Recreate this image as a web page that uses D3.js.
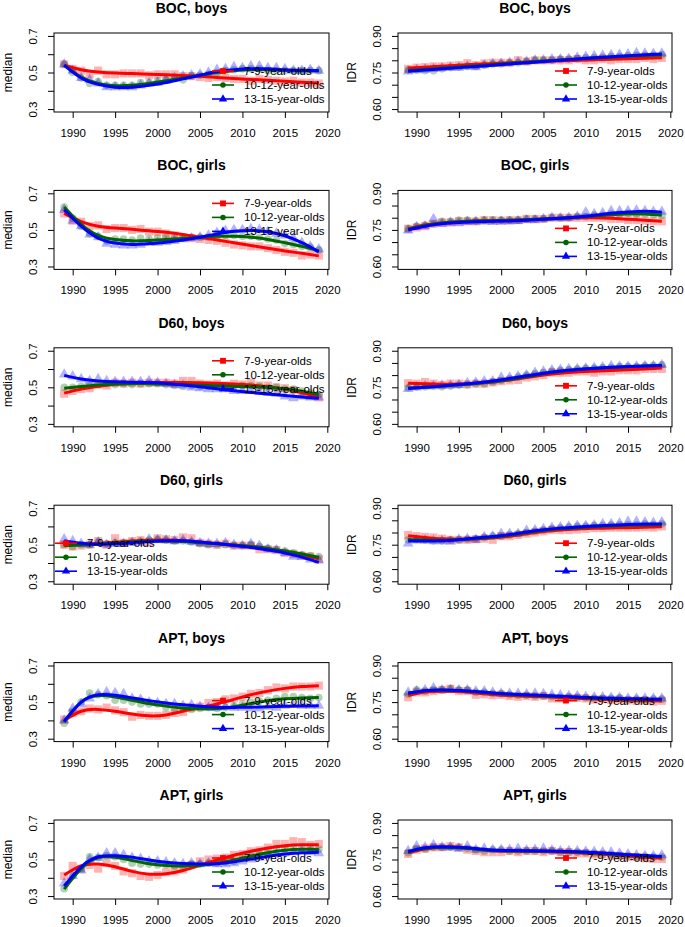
<!DOCTYPE html>
<html><head><meta charset="utf-8">
<script src="https://cdn.jsdelivr.net/npm/d3@7"></script>
<style>body{margin:0;background:#fff}svg{display:block;font-family:"Liberation Sans",Arial,Helvetica,sans-serif}</style>
</head><body><svg id="chart" width="685" height="927"></svg>
<script>
// ---------------- data ----------------
const years = [1989,1990,1991,1992,1993,1994,1995,1996,1997,1998,1999,2000,2001,2002,2003,2004,2005,2006,2007,2008,2009,2010,2011,2012,2013,2014,2015,2016,2017,2018,2019];
const fitYears = [1989,1991,1993,1995,1997,1999,2001,2003,2005,2007,2009,2011,2013,2015,2017,2019];
const groups = ["7-9-year-olds","10-12-year-olds","13-15-year-olds"];
const panelTitles = ["BOC, boys","BOC, girls","D60, boys","D60, girls","APT, boys","APT, girls"];
const measures = ["median","IDR"];
const yearTicks = [1990,1995,2000,2005,2010,2015,2020];
const medianTicks = [0.3,0.4,0.5,0.6,0.7];
const medianTickLabels = ["0.3","","0.5","","0.7"];
const idrTicks = [0.60,0.65,0.70,0.75,0.80,0.85,0.90];
const idrTickLabels = ["0.60","","","0.75","","","0.90"];

// median: observed points (7-9, 10-12, 13-15)
const bocBoysMedianPts = [
 [0.545,0.52,0.51,0.49,0.51,0.49,0.49,0.495,0.495,0.495,0.485,0.49,0.49,0.49,0.48,0.48,0.475,0.47,0.475,0.47,0.465,0.465,0.455,0.465,0.46,0.455,0.45,0.455,0.445,0.445,0.44],
 [0.545,0.50,0.47,0.44,0.45,0.43,0.43,0.43,0.43,0.445,0.445,0.455,0.46,0.47,0.46,0.48,0.485,0.49,0.50,0.51,0.515,0.52,0.52,0.52,0.51,0.51,0.51,0.51,0.51,0.51,0.51],
 [0.545,0.51,0.47,0.46,0.44,0.42,0.42,0.42,0.42,0.43,0.44,0.445,0.46,0.47,0.48,0.485,0.49,0.50,0.515,0.52,0.53,0.525,0.535,0.535,0.525,0.525,0.52,0.51,0.51,0.515,0.51]];
const bocGirlsMedianPts = [
 [0.59,0.55,0.545,0.52,0.525,0.505,0.51,0.51,0.50,0.505,0.49,0.49,0.48,0.47,0.46,0.455,0.45,0.445,0.44,0.43,0.42,0.415,0.41,0.41,0.40,0.39,0.38,0.375,0.36,0.365,0.36],
 [0.625,0.565,0.52,0.48,0.465,0.44,0.45,0.45,0.445,0.455,0.45,0.455,0.46,0.455,0.455,0.46,0.46,0.46,0.47,0.47,0.47,0.465,0.465,0.46,0.45,0.445,0.425,0.42,0.41,0.405,0.39],
 [0.61,0.55,0.52,0.475,0.46,0.425,0.42,0.415,0.415,0.42,0.43,0.43,0.435,0.44,0.45,0.455,0.46,0.47,0.485,0.495,0.50,0.50,0.505,0.50,0.49,0.48,0.47,0.455,0.43,0.41,0.395]];
const d60BoysMedianPts = [
 [0.465,0.48,0.49,0.495,0.515,0.51,0.525,0.52,0.525,0.52,0.525,0.525,0.525,0.52,0.535,0.535,0.52,0.515,0.52,0.51,0.52,0.515,0.525,0.51,0.51,0.50,0.495,0.485,0.465,0.455,0.445],
 [0.50,0.50,0.505,0.51,0.515,0.52,0.515,0.52,0.515,0.52,0.52,0.52,0.515,0.51,0.505,0.51,0.505,0.505,0.505,0.50,0.505,0.51,0.51,0.505,0.50,0.50,0.49,0.49,0.48,0.47,0.46],
 [0.57,0.56,0.545,0.535,0.545,0.535,0.53,0.53,0.53,0.53,0.535,0.525,0.52,0.515,0.51,0.50,0.495,0.49,0.49,0.49,0.48,0.48,0.48,0.475,0.47,0.465,0.45,0.44,0.45,0.445,0.445]];
const d60GirlsMedianPts = [
 [0.50,0.49,0.495,0.50,0.52,0.50,0.535,0.51,0.52,0.525,0.515,0.535,0.53,0.525,0.54,0.535,0.51,0.505,0.50,0.505,0.495,0.495,0.495,0.475,0.475,0.47,0.455,0.45,0.44,0.435,0.42],
 [0.50,0.49,0.50,0.50,0.515,0.505,0.51,0.51,0.515,0.52,0.525,0.53,0.525,0.52,0.52,0.515,0.505,0.50,0.50,0.50,0.495,0.495,0.50,0.49,0.48,0.475,0.465,0.455,0.445,0.44,0.435],
 [0.53,0.52,0.505,0.50,0.515,0.50,0.505,0.505,0.51,0.51,0.53,0.525,0.525,0.52,0.525,0.515,0.51,0.505,0.505,0.51,0.50,0.495,0.505,0.495,0.475,0.47,0.455,0.435,0.435,0.42,0.415]];
const aptBoysMedianPts = [
 [0.405,0.44,0.45,0.465,0.46,0.47,0.455,0.445,0.42,0.43,0.425,0.425,0.43,0.44,0.445,0.47,0.475,0.495,0.50,0.515,0.52,0.53,0.545,0.55,0.565,0.58,0.575,0.585,0.585,0.585,0.59],
 [0.385,0.45,0.50,0.55,0.54,0.535,0.51,0.51,0.50,0.49,0.49,0.49,0.47,0.465,0.47,0.46,0.465,0.47,0.465,0.47,0.48,0.49,0.50,0.505,0.51,0.52,0.53,0.53,0.525,0.52,0.525],
 [0.40,0.465,0.49,0.52,0.545,0.555,0.55,0.545,0.52,0.515,0.50,0.495,0.49,0.49,0.48,0.485,0.475,0.47,0.47,0.475,0.47,0.47,0.465,0.465,0.475,0.47,0.48,0.485,0.48,0.48,0.48]];
const aptGirlsMedianPts = [
 [0.41,0.465,0.45,0.47,0.45,0.48,0.465,0.435,0.425,0.41,0.405,0.415,0.43,0.435,0.445,0.47,0.49,0.50,0.505,0.51,0.525,0.53,0.545,0.55,0.565,0.585,0.585,0.60,0.595,0.58,0.585],
 [0.34,0.41,0.45,0.515,0.51,0.52,0.515,0.50,0.48,0.475,0.475,0.47,0.47,0.465,0.465,0.475,0.475,0.48,0.48,0.485,0.49,0.51,0.52,0.53,0.535,0.56,0.56,0.565,0.565,0.555,0.555],
 [0.37,0.41,0.44,0.50,0.51,0.535,0.535,0.525,0.51,0.505,0.49,0.49,0.485,0.48,0.475,0.48,0.475,0.48,0.475,0.475,0.48,0.49,0.50,0.51,0.52,0.53,0.535,0.54,0.545,0.54,0.535]];

// median: fitted curves at fitYears
const bocBoysMedianFit = [
 [0.54,0.515,0.503,0.497,0.494,0.491,0.488,0.484,0.479,0.473,0.467,0.462,0.457,0.452,0.447,0.442],
 [0.54,0.475,0.44,0.428,0.43,0.44,0.455,0.47,0.485,0.50,0.51,0.515,0.515,0.512,0.51,0.51],
 [0.54,0.47,0.435,0.42,0.42,0.43,0.445,0.465,0.485,0.505,0.515,0.52,0.52,0.515,0.512,0.51]];
const bocGirlsMedianFit = [
 [0.59,0.545,0.52,0.51,0.503,0.495,0.487,0.475,0.46,0.445,0.43,0.415,0.40,0.385,0.372,0.358],
 [0.625,0.53,0.47,0.447,0.44,0.442,0.447,0.453,0.46,0.465,0.465,0.46,0.448,0.43,0.41,0.385],
 [0.61,0.52,0.455,0.428,0.42,0.425,0.433,0.445,0.46,0.478,0.492,0.497,0.49,0.468,0.43,0.38]];
const d60BoysMedianFit = [
 [0.468,0.49,0.505,0.517,0.522,0.525,0.526,0.526,0.525,0.522,0.518,0.512,0.503,0.49,0.47,0.445],
 [0.495,0.505,0.513,0.518,0.52,0.52,0.518,0.515,0.511,0.508,0.505,0.503,0.499,0.492,0.479,0.46],
 [0.565,0.545,0.535,0.53,0.528,0.526,0.521,0.513,0.503,0.492,0.481,0.472,0.464,0.455,0.447,0.44]];
const d60GirlsMedianFit = [
 [0.505,0.504,0.506,0.513,0.52,0.525,0.526,0.522,0.514,0.505,0.498,0.49,0.478,0.462,0.444,0.423],
 [0.495,0.498,0.503,0.51,0.516,0.52,0.52,0.517,0.511,0.505,0.498,0.49,0.479,0.465,0.449,0.43],
 [0.522,0.508,0.503,0.505,0.511,0.518,0.522,0.521,0.515,0.506,0.496,0.485,0.471,0.455,0.432,0.403]];
const aptBoysMedianFit = [
 [0.40,0.45,0.46,0.45,0.435,0.425,0.43,0.45,0.47,0.49,0.515,0.54,0.56,0.575,0.585,0.59],
 [0.39,0.50,0.535,0.528,0.51,0.492,0.478,0.467,0.464,0.465,0.475,0.492,0.508,0.518,0.523,0.525],
 [0.395,0.50,0.54,0.537,0.523,0.508,0.495,0.485,0.477,0.472,0.471,0.472,0.474,0.477,0.479,0.48]];
const aptGirlsMedianFit = [
 [0.415,0.465,0.475,0.46,0.435,0.42,0.422,0.44,0.468,0.497,0.523,0.545,0.563,0.575,0.58,0.58],
 [0.338,0.45,0.51,0.512,0.495,0.477,0.467,0.464,0.468,0.48,0.498,0.518,0.537,0.55,0.556,0.555],
 [0.355,0.46,0.515,0.52,0.512,0.497,0.485,0.478,0.475,0.477,0.487,0.502,0.518,0.53,0.537,0.54]];

// IDR: observed points
const bocBoysIdrPts = [
 [0.765,0.77,0.772,0.775,0.775,0.778,0.78,0.788,0.78,0.787,0.79,0.79,0.79,0.80,0.795,0.80,0.80,0.80,0.80,0.80,0.805,0.80,0.80,0.805,0.80,0.805,0.805,0.805,0.81,0.805,0.81],
 [0.76,0.76,0.757,0.757,0.765,0.77,0.772,0.775,0.775,0.78,0.785,0.785,0.79,0.79,0.795,0.80,0.80,0.80,0.805,0.805,0.807,0.81,0.81,0.812,0.815,0.815,0.818,0.82,0.82,0.82,0.822],
 [0.755,0.76,0.762,0.765,0.768,0.77,0.77,0.775,0.772,0.78,0.785,0.787,0.79,0.793,0.795,0.80,0.80,0.805,0.805,0.807,0.812,0.815,0.818,0.82,0.822,0.823,0.825,0.83,0.828,0.827,0.828]];
const bocGirlsIdrPts = [
 [0.755,0.76,0.765,0.775,0.78,0.78,0.785,0.785,0.785,0.79,0.79,0.788,0.79,0.79,0.795,0.795,0.795,0.80,0.80,0.80,0.80,0.80,0.80,0.80,0.795,0.795,0.79,0.79,0.788,0.785,0.785],
 [0.755,0.765,0.77,0.775,0.785,0.785,0.79,0.79,0.785,0.79,0.79,0.79,0.79,0.79,0.795,0.795,0.795,0.80,0.80,0.80,0.805,0.805,0.81,0.81,0.815,0.815,0.818,0.815,0.815,0.812,0.81],
 [0.748,0.762,0.765,0.795,0.775,0.78,0.778,0.783,0.785,0.785,0.783,0.785,0.785,0.787,0.79,0.79,0.795,0.80,0.798,0.80,0.805,0.823,0.815,0.82,0.828,0.828,0.828,0.83,0.828,0.825,0.825]];
const d60BoysIdrPts = [
 [0.767,0.765,0.772,0.765,0.76,0.765,0.765,0.762,0.765,0.765,0.77,0.775,0.778,0.78,0.79,0.795,0.80,0.81,0.81,0.81,0.815,0.815,0.81,0.815,0.815,0.82,0.82,0.82,0.825,0.825,0.825],
 [0.748,0.752,0.752,0.755,0.752,0.755,0.758,0.76,0.765,0.765,0.772,0.778,0.785,0.792,0.80,0.805,0.81,0.815,0.82,0.822,0.825,0.828,0.828,0.83,0.83,0.835,0.835,0.835,0.838,0.84,0.842],
 [0.743,0.75,0.755,0.755,0.758,0.758,0.76,0.768,0.77,0.775,0.775,0.79,0.79,0.795,0.80,0.81,0.815,0.82,0.822,0.825,0.825,0.828,0.83,0.832,0.838,0.835,0.835,0.835,0.838,0.838,0.842]];
const d60GirlsIdrPts = [
 [0.79,0.785,0.782,0.78,0.775,0.77,0.77,0.77,0.772,0.775,0.77,0.785,0.785,0.79,0.795,0.80,0.805,0.81,0.81,0.81,0.812,0.815,0.818,0.818,0.82,0.82,0.82,0.82,0.822,0.82,0.825],
 [0.77,0.772,0.768,0.765,0.765,0.77,0.77,0.772,0.775,0.78,0.785,0.785,0.79,0.795,0.80,0.805,0.81,0.815,0.818,0.822,0.825,0.825,0.828,0.828,0.83,0.832,0.832,0.832,0.835,0.832,0.835],
 [0.755,0.768,0.768,0.765,0.765,0.763,0.772,0.775,0.77,0.782,0.785,0.795,0.795,0.795,0.808,0.81,0.815,0.82,0.822,0.825,0.828,0.828,0.83,0.835,0.835,0.838,0.845,0.845,0.842,0.84,0.842]];
const aptBoysIdrPts = [
 [0.77,0.79,0.79,0.795,0.80,0.805,0.795,0.795,0.78,0.782,0.778,0.78,0.775,0.772,0.775,0.772,0.775,0.765,0.765,0.767,0.767,0.765,0.76,0.762,0.758,0.76,0.757,0.755,0.757,0.752,0.755],
 [0.782,0.80,0.795,0.80,0.80,0.805,0.80,0.80,0.79,0.79,0.785,0.785,0.78,0.778,0.778,0.775,0.775,0.772,0.77,0.772,0.77,0.768,0.765,0.765,0.765,0.768,0.76,0.762,0.76,0.762,0.762],
 [0.79,0.795,0.80,0.808,0.80,0.80,0.80,0.80,0.795,0.795,0.79,0.785,0.785,0.785,0.782,0.785,0.783,0.78,0.778,0.775,0.775,0.772,0.77,0.77,0.768,0.768,0.765,0.765,0.765,0.765,0.765]];
const aptGirlsIdrPts = [
 [0.773,0.79,0.795,0.80,0.80,0.805,0.80,0.79,0.785,0.78,0.78,0.78,0.785,0.78,0.785,0.785,0.78,0.785,0.78,0.78,0.775,0.775,0.77,0.77,0.765,0.765,0.76,0.76,0.755,0.752,0.752],
 [0.778,0.795,0.792,0.80,0.80,0.80,0.80,0.795,0.79,0.785,0.79,0.79,0.785,0.785,0.785,0.785,0.785,0.785,0.78,0.78,0.78,0.778,0.775,0.772,0.77,0.765,0.765,0.76,0.762,0.76,0.76],
 [0.785,0.805,0.80,0.81,0.80,0.80,0.795,0.805,0.79,0.795,0.79,0.79,0.79,0.795,0.788,0.79,0.795,0.788,0.785,0.785,0.785,0.783,0.782,0.78,0.78,0.775,0.772,0.768,0.765,0.765,0.768]];

// IDR: fitted curves at fitYears
const bocBoysIdrFit = [
 [0.768,0.772,0.776,0.780,0.784,0.787,0.790,0.793,0.796,0.798,0.800,0.802,0.804,0.806,0.808,0.810],
 [0.758,0.763,0.768,0.773,0.778,0.783,0.788,0.792,0.797,0.801,0.805,0.809,0.813,0.817,0.820,0.822],
 [0.755,0.760,0.765,0.770,0.775,0.780,0.785,0.790,0.795,0.800,0.805,0.810,0.815,0.819,0.823,0.826]];
const bocGirlsIdrFit = [
 [0.755,0.77,0.778,0.783,0.786,0.788,0.790,0.792,0.795,0.798,0.80,0.80,0.798,0.794,0.79,0.785],
 [0.753,0.768,0.778,0.783,0.786,0.788,0.790,0.792,0.795,0.798,0.802,0.807,0.812,0.815,0.815,0.81],
 [0.75,0.765,0.775,0.78,0.783,0.785,0.787,0.79,0.794,0.798,0.803,0.81,0.818,0.823,0.826,0.822]];
const d60BoysIdrFit = [
 [0.767,0.765,0.763,0.764,0.767,0.772,0.78,0.79,0.80,0.808,0.813,0.816,0.819,0.822,0.825,0.829],
 [0.747,0.751,0.755,0.76,0.766,0.773,0.782,0.793,0.805,0.815,0.822,0.827,0.831,0.834,0.837,0.84],
 [0.745,0.75,0.755,0.761,0.768,0.776,0.786,0.797,0.808,0.817,0.823,0.828,0.832,0.835,0.837,0.839]];
const d60GirlsIdrFit = [
 [0.787,0.78,0.774,0.772,0.773,0.778,0.785,0.795,0.804,0.81,0.814,0.817,0.819,0.82,0.822,0.824],
 [0.771,0.769,0.768,0.771,0.775,0.781,0.789,0.799,0.808,0.815,0.82,0.824,0.827,0.83,0.831,0.832],
 [0.765,0.765,0.766,0.771,0.777,0.784,0.792,0.802,0.811,0.818,0.823,0.827,0.83,0.833,0.835,0.835]];
const aptBoysIdrFit = [
 [0.777,0.791,0.795,0.793,0.787,0.781,0.777,0.774,0.772,0.769,0.766,0.763,0.760,0.758,0.756,0.755],
 [0.785,0.797,0.80,0.798,0.792,0.786,0.781,0.778,0.775,0.772,0.769,0.766,0.764,0.762,0.761,0.76],
 [0.787,0.797,0.80,0.798,0.793,0.787,0.783,0.780,0.777,0.774,0.771,0.768,0.766,0.764,0.763,0.762]];
const aptGirlsIdrFit = [
 [0.777,0.793,0.80,0.80,0.793,0.787,0.785,0.784,0.783,0.781,0.778,0.774,0.769,0.764,0.759,0.755],
 [0.78,0.795,0.80,0.798,0.792,0.787,0.785,0.785,0.785,0.783,0.78,0.777,0.772,0.768,0.764,0.76],
 [0.783,0.798,0.802,0.80,0.795,0.789,0.787,0.786,0.785,0.784,0.782,0.779,0.775,0.77,0.766,0.762]];

const medianPts = [bocBoysMedianPts,bocGirlsMedianPts,d60BoysMedianPts,d60GirlsMedianPts,aptBoysMedianPts,aptGirlsMedianPts];
const medianFit = [bocBoysMedianFit,bocGirlsMedianFit,d60BoysMedianFit,d60GirlsMedianFit,aptBoysMedianFit,aptGirlsMedianFit];
const idrPts = [bocBoysIdrPts,bocGirlsIdrPts,d60BoysIdrPts,d60GirlsIdrPts,aptBoysIdrPts,aptGirlsIdrPts];
const idrFit = [bocBoysIdrFit,bocGirlsIdrFit,d60BoysIdrFit,d60GirlsIdrFit,aptBoysIdrFit,aptGirlsIdrFit];

// ---------------- layout / style ----------------
const colors = ["#FF0000","#006400","#0000FF"];
const shapes = [d3.symbolSquare, d3.symbolCircle, d3.symbolTriangle];
const ptSizes = [66, 46, 50];
const legSizes = [34, 24, 30];
const legendCornerLeft = ["br","tr","tr","bl","br","br"];
const boxL = [54, 398], boxR = [329, 672];
const top0 = 33, pitch = 157.4, boxH = 79;
const font = 11.5;

const svg = d3.select("#chart");

function drawPanel(row, col){
  const L = boxL[col], R = boxR[col];
  const T = top0 + row*pitch, B = T + boxH;
  const isMed = col === 0;
  const ticks = isMed ? medianTicks : idrTicks;
  const tlabels = isMed ? medianTickLabels : idrTickLabels;
  const lo = ticks[0], hi = ticks[ticks.length-1], pad = (hi-lo)*0.04;
  const span = years[years.length-1]-years[0];
  const x = d3.scaleLinear().domain([years[0]-span*0.04, years[years.length-1]+span*0.04]).range([L,R]);
  const y = d3.scaleLinear().domain([lo-pad, hi+pad]).range([B,T]);
  const pts = (isMed ? medianPts : idrPts)[row];
  const fit = (isMed ? medianFit : idrFit)[row];
  const g = svg.append("g");

  // points
  pts.forEach((series, s) => {
    g.append("g").selectAll("path").data(series).join("path")
      .attr("transform", (v,i) => `translate(${x(years[i])},${y(v)})`)
      .attr("d", d3.symbol().type(shapes[s]).size(ptSizes[s]))
      .attr("fill", colors[s]).attr("fill-opacity", 0.3);
  });
  // fitted curves
  const line = d3.line().x((v,i)=>x(fitYears[i])).y(v=>y(v)).curve(d3.curveNatural);
  fit.forEach((series, s) => {
    g.append("path").attr("d", line(series)).attr("fill","none")
      .attr("stroke", colors[s]).attr("stroke-width", 3);
  });

  // box
  g.append("rect").attr("x",L).attr("y",T).attr("width",R-L).attr("height",B-T)
    .attr("fill","none").attr("stroke","#000").attr("stroke-width",1);

  // x axis
  const xa = g.append("g").attr("transform",`translate(0,${B})`)
    .call(d3.axisBottom(x).tickValues(yearTicks).tickSize(6).tickFormat(d3.format("d")));
  xa.select(".domain").remove();
  xa.attr("font-family",null);
  xa.selectAll("text").attr("y",21).attr("dy","0.35em").style("font-size",font+"px");

  // y axis
  const ya = g.append("g").attr("transform",`translate(${L},0)`)
    .call(d3.axisLeft(y).tickValues(ticks).tickSize(6).tickFormat((d,i)=>tlabels[i]));
  ya.select(".domain").remove();
  ya.attr("font-family",null);
  ya.selectAll("text").attr("x",0).attr("y",-21).attr("dy","0.35em")
    .attr("transform","rotate(-90)").attr("text-anchor","middle").style("font-size",font+"px");

  // y label
  const lx = col === 0 ? 8 : 352;
  g.append("text").attr("transform",`translate(${lx},${(T+B)/2}) rotate(-90)`)
    .attr("text-anchor","middle").attr("dy","0.35em").style("font-size","12px").text(measures[col]);

  // title
  g.append("text").attr("x",(L+R)/2).attr("y",T-25).attr("dy","0.35em").attr("text-anchor","middle")
    .style("font-size","14px").style("font-weight","bold").text(panelTitles[row]);

  // legend
  const corner = col === 0 ? legendCornerLeft[row] : "br";
  const ys = corner === "tr" ? [T+13, T+27, T+41] : [B-41, B-27, B-13];
  const lineX0 = corner === "bl" ? L+1 : R-117;
  groups.forEach((name, s) => {
    const lg = g.append("g");
    lg.append("line").attr("x1",lineX0).attr("x2",lineX0+22).attr("y1",ys[s]).attr("y2",ys[s])
      .attr("stroke",colors[s]).attr("stroke-width",1.6);
    lg.append("path").attr("transform",`translate(${lineX0+11},${ys[s]})`)
      .attr("d", d3.symbol().type(shapes[s]).size(legSizes[s])).attr("fill",colors[s]);
    lg.append("text").attr("x",lineX0+32).attr("y",ys[s]).attr("dy","0.35em")
      .style("font-size",font+"px").text(name);
  });
}

for (let r = 0; r < 6; r++) for (let c = 0; c < 2; c++) drawPanel(r, c);
</script>
</body></html>
